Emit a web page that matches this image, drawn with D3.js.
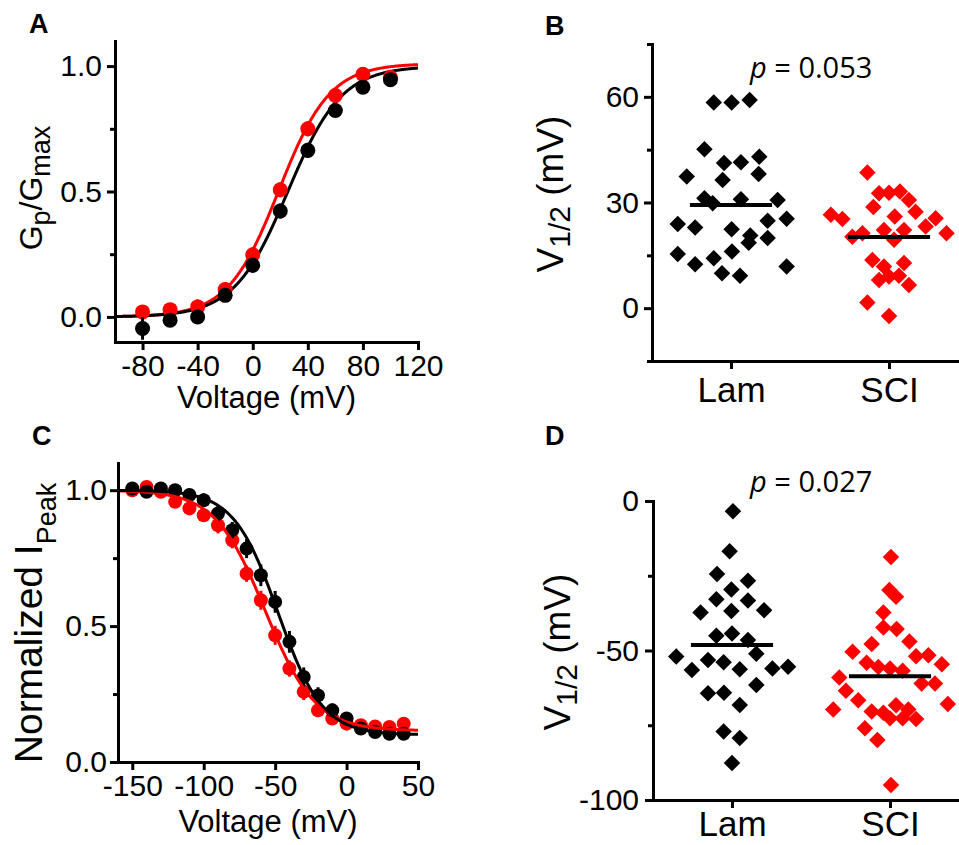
<!DOCTYPE html>
<html><head><meta charset="utf-8">
<script src="https://cdn.jsdelivr.net/npm/d3@7"></script>
<style>
body{margin:0;background:#fff}
svg{display:block}
text{font-family:"Liberation Sans",Arial,sans-serif;fill:#000}
</style>
</head><body>
<svg id="fig" width="959" height="845"></svg>
<script>
// ---------- Panel A: activation (Gp/Gmax vs voltage) ----------
const actVoltages = [-80, -60, -40, -20, 0, 20, 40, 60, 80, 100];
const actLam      = [-0.046, -0.013, 0.0, 0.086, 0.206, 0.422, 0.664, 0.823, 0.916, 0.946];
const actLamErr   = [0.045, 0.02, 0.02, 0.02, 0.03, 0.03, 0.03, 0.025, 0.02, 0.02];
const actSCI      = [0.020, 0.029, 0.040, 0.109, 0.248, 0.507, 0.750, 0.883, 0.967, 0.955];
const actSCIErr   = [0.02, 0.02, 0.03, 0.03, 0.03, 0.03, 0.03, 0.02, 0.02, 0.02];
const actFitLam   = [25.5, 19.5, 1.0];   // [V1/2, k, Gmax]
const actFitSCI   = [19, 18.5, 1.01];
const actXTicks   = [-80, -40, 0, 40, 80, 120];
const actYTicks   = [0, 0.5, 1.0];
const actYMinor   = [0.25, 0.75];

// ---------- Panel B: activation V1/2 ----------
const groups      = ["Lam", "SCI"];
const bLam    = [58.4,58.4,59.1,45.1,41.2,41.4,43.0,37.4,36.4,38.1,31.2,29.8,30.9,30.7,23.9,22.9,22.4,24.8,25.4,20.6,18.6,19.9,15.4,12.5,14.2,16.1,9.9,9.2,11.8];
const bLamJit = [-0.109,0.004,0.118,-0.168,-0.044,0.063,0.179,-0.280,-0.053,0.175,-0.168,-0.116,0.063,0.295,-0.337,-0.227,0.004,0.232,0.352,0.122,0.112,0.232,-0.337,-0.227,-0.109,0.006,-0.057,0.057,0.352];
const bSCI    = [38.5,32.6,32.8,33.1,30.7,28.7,27.4,26.5,25.3,26.0,25.5,23.2,21.3,20.3,21.3,22.2,22.2,19.4,13.7,11.8,12.8,8.0,9.0,9.2,6.6,1.6,-2.2];
const bSCIJit = [-0.137,-0.063,0,0.069,0.126,-0.099,0.168,-0.368,-0.295,0.036,0.295,0.232,0.364,-0.232,-0.168,-0.032,0.095,0.032,-0.105,-0.032,0.095,-0.063,0,0.063,0.126,-0.137,0];
const bMedians = [29.3, 20.2];
const bYTicks  = [0, 30, 60];
const bYMinor  = [-15, 15, 45, 75];
const bPText   = "0.053";

// ---------- Panel C: inactivation ----------
const inactVoltages = [-150,-140,-130,-120,-110,-100,-90,-80,-70,-60,-50,-40,-30,-20,-10,0,10,20,30,40];
const inactLam    = [1.006,0.994,1.006,1.0,0.982,0.963,0.914,0.853,0.785,0.687,0.589,0.442,0.313,0.245,0.190,0.160,0.123,0.110,0.104,0.104];
const inactLamErr = [0.01,0.01,0.01,0.015,0.02,0.025,0.03,0.03,0.035,0.04,0.04,0.04,0.035,0.03,0.025,0.02,0.02,0.02,0.02,0.02];
const inactSCI    = [1.0,1.012,0.994,0.957,0.933,0.908,0.871,0.816,0.693,0.595,0.466,0.344,0.258,0.190,0.160,0.141,0.135,0.131,0.129,0.141];
const inactSCIErr = [0.01,0.01,0.015,0.015,0.02,0.025,0.03,0.03,0.03,0.035,0.035,0.03,0.03,0.025,0.02,0.015,0.015,0.015,0.015,0.02];
const inactFitLam = [-48, 15.5, 0.10];  // [V1/2, k, residual]
const inactFitSCI = [-57, 17.5, 0.115];
const inactXTicks = [-150, -100, -50, 0, 50];
const inactYTicks = [0, 0.5, 1.0];
const inactYMinor = [0.25, 0.75];

// ---------- Panel D: inactivation V1/2 ----------
const dLam    = [-3.4,-16.8,-24.4,-26.7,-29.6,-32.9,-33.3,-37.3,-36.8,-36.5,-45.1,-44.3,-46.5,-51.1,-52.0,-53.2,-53.9,-56.5,-56.3,-56.0,-55.4,-61.5,-64.3,-64.1,-68.2,-77.1,-79.3,-87.6];
const dLamJit = [0.006,-0.015,-0.095,0.101,-0.004,-0.099,0.101,-0.199,-0.004,0.203,-0.099,0,0.101,0.154,-0.353,-0.152,-0.053,-0.254,0.049,0.256,0.355,0.154,-0.152,-0.051,0.049,-0.053,0.049,0];
const dSCI    = [-18.7,-29.8,-32.0,-37.3,-42.3,-42.8,-47.8,-47.0,-50.4,-51.9,-51.6,-54.1,-55.5,-56.0,-56.8,-54.6,-59.0,-61.0,-61.0,-63.5,-66.6,-68.3,-67.9,-69.7,-70.4,-70.8,-69.7,-72.7,-72.7,-72.9,-76.0,-79.9,-95.0];
const dSCIJit = [0.006,-0.004,0.038,-0.042,-0.042,0.042,-0.116,0.123,-0.237,0.165,0.243,-0.148,-0.074,0,0.080,0.328,-0.321,0.2,0.285,-0.279,-0.201,0.038,0.366,-0.359,-0.116,-0.042,0.116,0,0.080,0.165,-0.159,-0.080,0.006];
const dMedians = [-48.2, -58.6];
const dYTicks  = [-100, -50, 0];
const dYMinor  = [-75, -25];
const dPText   = "0.027";

// ---------- drawing ----------
const RED = "#ff0000", BLACK = "#000000";
const AXW = 3, TICK = 8, MINOR = 5;
const svg = d3.select("#fig");

function styleAxis(g) {
  g.selectAll("path.domain").attr("stroke", "#000").attr("stroke-width", AXW).attr("stroke-linecap", "square");
  g.selectAll(".tick line").attr("stroke", "#000").attr("stroke-width", AXW);
  g.selectAll("text").attr("fill", "#000").style("font-family", '"Liberation Sans",Arial,sans-serif');
}

function yAxis(y, x0, major, minor, fmt, fs, pad) {
  const g = svg.append("g").attr("transform", `translate(${x0},0)`)
    .call(d3.axisLeft(y).tickValues(major).tickSize(TICK).tickSizeOuter(0).tickPadding(pad).tickFormat(fmt));
  g.selectAll("text").attr("font-size", fs);
  styleAxis(g);
  const gm = svg.append("g").attr("transform", `translate(${x0},0)`)
    .call(d3.axisLeft(y).tickValues(minor).tickSize(MINOR).tickSizeOuter(0).tickFormat(() => ""));
  gm.select("path.domain").remove();
  styleAxis(gm);
}
function xAxis(x, y0, ticks, fmt, fs, pad) {
  const g = svg.append("g").attr("transform", `translate(0,${y0})`)
    .call(d3.axisBottom(x).tickValues(ticks).tickSize(TICK).tickSizeOuter(0).tickPadding(pad).tickFormat(fmt));
  g.selectAll("text").attr("font-size", fs);
  styleAxis(g);
}
function panelLetter(t, x, y) {
  svg.append("text").attr("x", x).attr("y", y).attr("font-size", 27).attr("font-weight", "bold").text(t);
}
function xTitle(t, x, y) {
  svg.append("text").attr("x", x).attr("y", y).attr("text-anchor", "middle").attr("font-size", 31).text(t);
}
// parts: [[text, size, dy]]
function yTitle(parts, x, y) {
  const t = svg.append("text").attr("transform", `translate(${x},${y}) rotate(-90)`).attr("text-anchor", "middle");
  parts.forEach(p => t.append("tspan").attr("font-size", p[1]).attr("dy", p[2]).text(p[0]));
}
function pLabel(val, x, y) {
  const t = svg.append("text").attr("x", x).attr("y", y).style("font-family", '"Open Sans",sans-serif').attr("font-size", 29);
  t.append("tspan").attr("font-style", "italic").text("p");
  t.append("tspan").text(" = " + val);
}
const fmt1 = d => d.toFixed(1);
const fmtInt = d => String(d);

// ===== Panel A =====
{
  const x = d3.scaleLinear().domain([-100, 120]).range([115, 418]);
  const y = d3.scaleLinear().domain([-0.1, 1.1]).range([342, 41]);
  const fit = (v, p) => p[2] / (1 + Math.exp((p[0] - v) / p[1]));
  const vs = d3.range(-100, 120.5, 0.5);
  const line = p => d3.line().x(v => x(v)).y(v => y(fit(v, p)))(vs);
  const series = [[actSCI, actSCIErr, actFitSCI, RED], [actLam, actLamErr, actFitLam, BLACK]];
  series.forEach(([vals, errs, p, col]) => {
    svg.append("path").attr("d", line(p)).attr("fill", "none").attr("stroke", col).attr("stroke-width", 3);
  });
  series.forEach(([vals, errs, p, col]) => {
    const g = svg.append("g");
    g.selectAll("line").data(actVoltages).join("line")
      .attr("x1", v => x(v)).attr("x2", v => x(v))
      .attr("y1", (v, i) => y(vals[i] - errs[i])).attr("y2", (v, i) => y(vals[i] + errs[i]))
      .attr("stroke", col).attr("stroke-width", 3);
    g.selectAll("circle").data(actVoltages).join("circle")
      .attr("cx", v => x(v)).attr("cy", (v, i) => y(vals[i])).attr("r", 7.5).attr("fill", col);
  });
  yAxis(y, 115, actYTicks, actYMinor, fmt1, 30, 5);
  xAxis(x, 342, actXTicks, fmtInt, 30, 5);
  panelLetter("A", 29, 33);
  xTitle("Voltage (mV)", (115 + 418) / 2, 408);
  yTitle([["G", 32, 0], ["p", 27, 8], ["/G", 32, -8], ["max", 27, 8]], 42, 188);
}

// ===== scatter panels =====
function scatterPanel(cfg) {
  const x = d3.scaleLinear().domain([0.5, 2.5]).range([cfg.x0, cfg.x0 + 316]);
  const y = d3.scaleLinear().domain(cfg.yDom).range(cfg.yRange);
  const sym = d3.symbol(d3.symbolSquare, 136);
  const sets = [[cfg.lam, cfg.lamJit, 1, BLACK], [cfg.sci, cfg.sciJit, 2, RED]];
  sets.forEach(([vals, jit, c, col]) => {
    svg.append("g").selectAll("path").data(vals).join("path")
      .attr("d", sym)
      .attr("transform", (d, i) => `translate(${x(c + jit[i])},${y(d)}) rotate(45)`)
      .attr("fill", col);
  });
  svg.append("g").selectAll("line").data(cfg.medians).join("line")
    .attr("x1", (d, i) => x(i + 1 - 0.26)).attr("x2", (d, i) => x(i + 1 + 0.26))
    .attr("y1", d => y(d)).attr("y2", d => y(d))
    .attr("stroke", "#000").attr("stroke-width", 4);
  yAxis(y, cfg.x0, cfg.yTicks, cfg.yMinor, fmtInt, 30, cfg.ypad);
  xAxis(x, cfg.yRange[0], [1, 2], (d) => groups[d - 1], 35, cfg.xpad);
  panelLetter(cfg.letter, 545, cfg.letterY);
  yTitle([["V", 37, 0], ["1/2", 30, 7], [" (mV)", 37, -7]], cfg.titleX, cfg.titleY);
  pLabel(cfg.p, 750, cfg.pY);
}
scatterPanel({x0: 652, yDom: [-15, 75], yRange: [361, 44], lam: bLam, lamJit: bLamJit, sci: bSCI, sciJit: bSCIJit,
  medians: bMedians, yTicks: bYTicks, yMinor: bYMinor, letter: "B", letterY: 35, titleX: 563, titleY: 194, p: bPText, pY: 78, ypad: 5, xpad: 8});

// ===== Panel C =====
{
  const x = d3.scaleLinear().domain([-160, 50]).range([118, 418]);
  const y = d3.scaleLinear().domain([0, 1.1]).range([762, 463]);
  const fit = (v, p) => (1 - p[2]) / (1 + Math.exp((v - p[0]) / p[1])) + p[2];
  const vs = d3.range(-160, 50.5, 0.5);
  const line = p => d3.line().x(v => x(v)).y(v => y(fit(v, p)))(vs);
  const series = [[inactSCI, inactSCIErr, inactFitSCI, RED], [inactLam, inactLamErr, inactFitLam, BLACK]];
  series.forEach(([vals, errs, p, col]) => {
    const g = svg.append("g");
    g.selectAll("line").data(inactVoltages).join("line")
      .attr("x1", v => x(v)).attr("x2", v => x(v))
      .attr("y1", (v, i) => y(vals[i] - errs[i])).attr("y2", (v, i) => y(vals[i] + errs[i]))
      .attr("stroke", col).attr("stroke-width", 3);
    g.selectAll("circle").data(inactVoltages).join("circle")
      .attr("cx", v => x(v)).attr("cy", (v, i) => y(vals[i])).attr("r", 7).attr("fill", col);
  });
  series.forEach(([vals, errs, p, col]) => {
    svg.append("path").attr("d", line(p)).attr("fill", "none").attr("stroke", col).attr("stroke-width", 3);
  });
  yAxis(y, 118, inactYTicks, inactYMinor, fmt1, 30, 3);
  xAxis(x, 762, inactXTicks, fmtInt, 30, 5);
  panelLetter("C", 32, 445);
  xTitle("Voltage (mV)", (118 + 418) / 2, 832);
  yTitle([["Normalized I", 39, 0], ["Peak", 27, 14]], 42, 623);
}

// ===== Panel D =====
scatterPanel({x0: 653, yDom: [-100, 0], yRange: [800, 501], lam: dLam, lamJit: dLamJit, sci: dSCI, sciJit: dSCIJit,
  medians: dMedians, yTicks: dYTicks, yMinor: dYMinor, letter: "D", letterY: 445, titleX: 570, titleY: 652, p: dPText, pY: 492, ypad: 6, xpad: 3});
</script>
</body></html>
